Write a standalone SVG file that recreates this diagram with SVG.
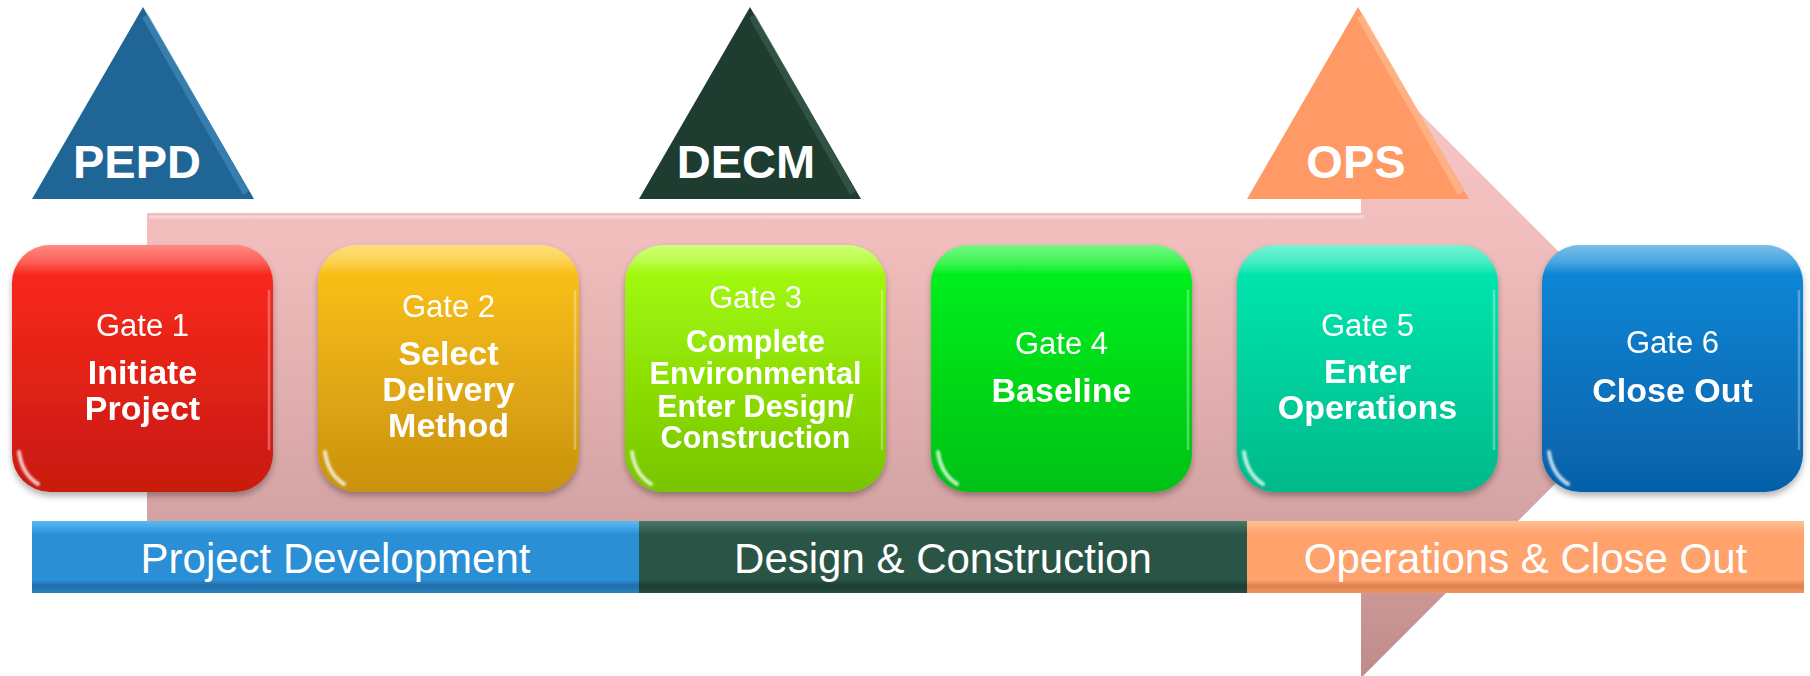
<svg xmlns="http://www.w3.org/2000/svg" width="1810" height="676" viewBox="0 0 1810 676">
<style>
.gt{font-family:"Liberation Sans",Arial,sans-serif;font-size:31px;fill:#fff;text-anchor:middle}
.gb{font-family:"Liberation Sans",Arial,sans-serif;font-size:34px;font-weight:bold;fill:#fff;text-anchor:middle}
.g3{font-size:30.5px}
.tt{font-family:"Liberation Sans",Arial,sans-serif;font-size:47px;font-weight:bold;fill:#fff;text-anchor:middle}
.bt{font-family:"Liberation Sans",Arial,sans-serif;font-size:42px;fill:#fff;text-anchor:middle}
.gloss{fill:url(#gloss)}
.edge{fill:none;stroke:#fff;stroke-opacity:0.3;stroke-width:2.5}
.glint{fill:none;stroke:#fff;stroke-opacity:0.75;stroke-width:4;stroke-linecap:round;filter:url(#soft)}
.bev{fill:none;stroke-width:7;stroke-opacity:0.55}
</style>
<defs>
<linearGradient id="arrowG" gradientUnits="userSpaceOnUse" x1="0" y1="54" x2="0" y2="678">
<stop offset="0" stop-color="#f8c8c8"/>
<stop offset="0.3" stop-color="#f1bdbd"/>
<stop offset="0.75" stop-color="#d3a2a2"/>
<stop offset="1" stop-color="#c08a8a"/>
</linearGradient>
<linearGradient id="gloss" x1="0" y1="0" x2="0" y2="1">
<stop offset="0" stop-color="#fff" stop-opacity="0.45"/>
<stop offset="0.07" stop-color="#fff" stop-opacity="0.25"/>
<stop offset="0.12" stop-color="#fff" stop-opacity="0"/>
<stop offset="1" stop-color="#fff" stop-opacity="0"/>
</linearGradient>
<linearGradient id="g1" x1="0" y1="0" x2="0" y2="1"><stop offset="0" stop-color="#ff2a1e"/><stop offset="1" stop-color="#c81a10"/></linearGradient>
<linearGradient id="g2" x1="0" y1="0" x2="0" y2="1"><stop offset="0" stop-color="#ffc416"/><stop offset="1" stop-color="#c99210"/></linearGradient>
<linearGradient id="g3" x1="0" y1="0" x2="0" y2="1"><stop offset="0" stop-color="#a6ff0c"/><stop offset="1" stop-color="#78c400"/></linearGradient>
<linearGradient id="g4" x1="0" y1="0" x2="0" y2="1"><stop offset="0" stop-color="#00f51c"/><stop offset="1" stop-color="#00c116"/></linearGradient>
<linearGradient id="g5" x1="0" y1="0" x2="0" y2="1"><stop offset="0" stop-color="#06eab2"/><stop offset="1" stop-color="#00b98a"/></linearGradient>
<linearGradient id="g6" x1="0" y1="0" x2="0" y2="1"><stop offset="0" stop-color="#0c8ada"/><stop offset="1" stop-color="#0660a8"/></linearGradient>
<linearGradient id="b1" x1="0" y1="0" x2="0" y2="1"><stop offset="0" stop-color="#5ab9f2"/><stop offset="0.13" stop-color="#3a9ee2"/><stop offset="0.18" stop-color="#2b8fd6"/><stop offset="0.82" stop-color="#2b8fd6"/><stop offset="0.9" stop-color="#1f6da6"/><stop offset="1" stop-color="#2a80c0"/></linearGradient>
<linearGradient id="b2" x1="0" y1="0" x2="0" y2="1"><stop offset="0" stop-color="#4a7a6a"/><stop offset="0.13" stop-color="#33604f"/><stop offset="0.18" stop-color="#2a5546"/><stop offset="0.82" stop-color="#2a5546"/><stop offset="0.9" stop-color="#1c3b31"/><stop offset="1" stop-color="#264c3f"/></linearGradient>
<linearGradient id="b3" x1="0" y1="0" x2="0" y2="1"><stop offset="0" stop-color="#ffbf92"/><stop offset="0.13" stop-color="#ffab7a"/><stop offset="0.18" stop-color="#ffa26c"/><stop offset="0.82" stop-color="#ffa26c"/><stop offset="0.9" stop-color="#d9804e"/><stop offset="1" stop-color="#f09562"/></linearGradient>
<filter id="sh" x="-10%" y="-10%" width="120%" height="130%">
<feDropShadow dx="0" dy="4" stdDeviation="3" flood-color="#000" flood-opacity="0.3"/>
</filter>
<filter id="soft" x="-50%" y="-50%" width="200%" height="200%">
<feGaussianBlur stdDeviation="1.2"/>
</filter>
</defs>

<g id="process-arrow">
<polygon points="147,213 1361,213 1361,54 1673,366 1361,678 1361,521 147,521" fill="url(#arrowG)"/>
<polyline points="149,217 1364,217" fill="none" stroke="#fff" stroke-opacity="0.35" stroke-width="3"/>
</g>

<g id="connectors"/>

<g id="bar-project-development">
<rect x="32" y="521" width="607" height="72" fill="url(#b1)"/>
<text class="bt" x="335.5" y="573">Project Development</text>
</g>
<g id="bar-design-construction">
<rect x="639" y="521" width="608" height="72" fill="url(#b2)"/>
<text class="bt" x="943" y="573">Design &amp; Construction</text>
</g>
<g id="bar-operations-closeout">
<rect x="1247" y="521" width="557" height="72" fill="url(#b3)"/>
<text class="bt" x="1525.5" y="573">Operations &amp; Close Out</text>
</g>

<g id="tri-pepd">
<polygon points="143,7 254,199 32,199" fill="#1f6696"/>
<polyline class="bev" points="145,16 246,193" stroke="#4a92c4"/>
<text class="tt" x="137" y="178">PEPD</text>
</g>
<g id="tri-decm">
<polygon points="750,7 861,199 639,199" fill="#1e3d30"/>
<polyline class="bev" points="752,16 853,193" stroke="#3f6656"/>
<text class="tt" x="746" y="178">DECM</text>
</g>
<g id="tri-ops">
<polygon points="1358,7 1469,199 1247,199" fill="#ff9966"/>
<polyline class="bev" points="1360,16 1461,193" stroke="#ffc49c"/>
<text class="tt" x="1356" y="178">OPS</text>
</g>

<g id="gate1" filter="url(#sh)">
<rect x="12" y="245" width="261" height="247" rx="38" fill="url(#g1)"/>
<rect x="12" y="245" width="261" height="247" rx="38" class="gloss"/>
<path class="edge" d="M269,290 V450"/>
<path class="glint" d="M19,452 Q22,474 38,484"/>
<text class="gt" x="142.5" y="336">Gate 1</text>
<text class="gb" x="142.5" y="384">Initiate</text>
<text class="gb" x="142.5" y="420">Project</text>
</g>
<g id="gate2" filter="url(#sh)">
<rect x="318" y="245" width="261" height="247" rx="38" fill="url(#g2)"/>
<rect x="318" y="245" width="261" height="247" rx="38" class="gloss"/>
<path class="edge" d="M575,290 V450"/>
<path class="glint" d="M325,452 Q328,474 344,484"/>
<text class="gt" x="448.5" y="317">Gate 2</text>
<text class="gb" x="448.5" y="365">Select</text>
<text class="gb" x="448.5" y="401">Delivery</text>
<text class="gb" x="448.5" y="437">Method</text>
</g>
<g id="gate3" filter="url(#sh)">
<rect x="625" y="245" width="261" height="247" rx="38" fill="url(#g3)"/>
<rect x="625" y="245" width="261" height="247" rx="38" class="gloss"/>
<path class="edge" d="M882,290 V450"/>
<path class="glint" d="M632,452 Q635,474 651,484"/>
<text class="gt" x="755.5" y="308">Gate 3</text>
<text class="gb g3" x="755.5" y="352">Complete</text>
<text class="gb g3" x="755.5" y="384">Environmental</text>
<text class="gb g3" x="755.5" y="417">Enter Design/</text>
<text class="gb g3" x="755.5" y="448">Construction</text>
</g>
<g id="gate4" filter="url(#sh)">
<rect x="931" y="245" width="261" height="247" rx="38" fill="url(#g4)"/>
<rect x="931" y="245" width="261" height="247" rx="38" class="gloss"/>
<path class="edge" d="M1188,290 V450"/>
<path class="glint" d="M938,452 Q941,474 957,484"/>
<text class="gt" x="1061.5" y="354">Gate 4</text>
<text class="gb" x="1061.5" y="402">Baseline</text>
</g>
<g id="gate5" filter="url(#sh)">
<rect x="1237" y="245" width="261" height="247" rx="38" fill="url(#g5)"/>
<rect x="1237" y="245" width="261" height="247" rx="38" class="gloss"/>
<path class="edge" d="M1494,290 V450"/>
<path class="glint" d="M1244,452 Q1247,474 1263,484"/>
<text class="gt" x="1367.5" y="336">Gate 5</text>
<text class="gb" x="1367.5" y="383">Enter</text>
<text class="gb" x="1367.5" y="419">Operations</text>
</g>
<g id="gate6" filter="url(#sh)">
<rect x="1542" y="245" width="261" height="247" rx="38" fill="url(#g6)"/>
<rect x="1542" y="245" width="261" height="247" rx="38" class="gloss"/>
<path class="edge" d="M1799,290 V450"/>
<path class="glint" d="M1549,452 Q1552,474 1568,484"/>
<text class="gt" x="1672.5" y="353">Gate 6</text>
<text class="gb" x="1672.5" y="402">Close Out</text>
</g>
</svg>
